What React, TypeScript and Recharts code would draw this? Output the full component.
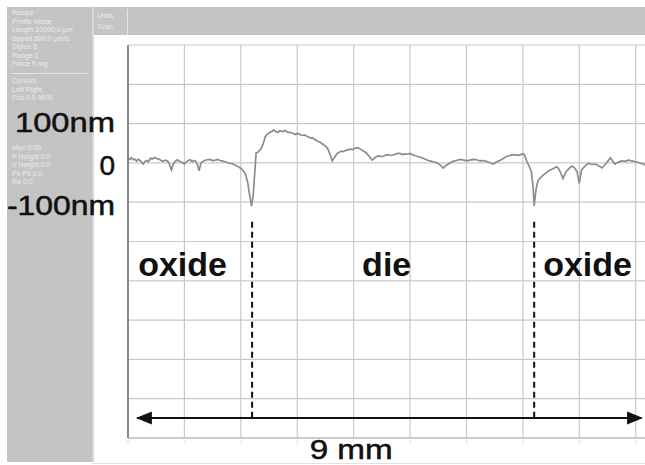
import { LineChart, Line, XAxis, YAxis, CartesianGrid, ReferenceLine, ReferenceDot } from 'recharts'

// surface profile scan: position along the scan (mm) and height (nm)
const positionMm = [
  0.00, 0.03, 0.06, 0.09, 0.12, 0.15, 0.18, 0.21, 0.24, 0.27, 0.30, 0.33, 0.36, 0.40, 0.43, 0.47, 0.51, 0.55, 0.58, 0.62,
  0.66, 0.70, 0.73, 0.77, 0.80, 0.83, 0.86, 0.88, 0.91, 0.95, 0.98, 1.00, 1.03, 1.07, 1.10, 1.14, 1.17, 1.20, 1.23, 1.26,
  1.29, 1.31, 1.36, 1.40, 1.45, 1.50, 1.55, 1.59, 1.63, 1.67, 1.72, 1.76, 1.80, 1.84, 1.88, 1.93, 1.97, 2.01, 2.05, 2.08,
  2.12, 2.16, 2.19, 2.22, 2.24, 2.26, 2.27, 2.30, 2.32, 2.35, 2.38, 2.41, 2.43, 2.46, 2.50, 2.53, 2.55, 2.58, 2.60, 2.63,
  2.66, 2.69, 2.72, 2.75, 2.78, 2.81, 2.84, 2.87, 2.90, 2.94, 2.97, 3.00, 3.03, 3.06, 3.10, 3.13, 3.17, 3.20, 3.24, 3.27,
  3.30, 3.33, 3.36, 3.40, 3.43, 3.46, 3.49, 3.52, 3.54, 3.57, 3.59, 3.62, 3.64, 3.66, 3.69, 3.71, 3.75, 3.79, 3.82, 3.86,
  3.90, 3.94, 3.98, 4.02, 4.06, 4.09, 4.12, 4.15, 4.19, 4.22, 4.25, 4.28, 4.31, 4.33, 4.36, 4.38, 4.42, 4.45, 4.49, 4.53,
  4.57, 4.61, 4.65, 4.70, 4.74, 4.78, 4.82, 4.86, 4.90, 4.95, 5.00, 5.04, 5.08, 5.12, 5.17, 5.23, 5.29, 5.35, 5.41, 5.48,
  5.53, 5.59, 5.64, 5.71, 5.76, 5.82, 5.89, 5.95, 6.01, 6.06, 6.12, 6.18, 6.24, 6.29, 6.35, 6.41, 6.47, 6.53, 6.60, 6.66,
  6.72, 6.78, 6.83, 6.89, 6.95, 6.99, 7.02, 7.05, 7.07, 7.11, 7.15, 7.18, 7.20, 7.23, 7.25, 7.27, 7.31, 7.36, 7.42, 7.48,
  7.54, 7.60, 7.63, 7.66, 7.71, 7.74, 7.77, 7.82, 7.87, 7.91, 7.94, 7.96, 8.00, 8.02, 8.04, 8.10, 8.16, 8.22, 8.28, 8.34,
  8.40, 8.46, 8.52, 8.55, 8.59, 8.63, 8.69, 8.75, 8.81, 8.87, 8.93, 8.99, 9.05, 9.11, 9.17,
]

const heightNm = [
  12, 9, 13, 8, 10, 5, 9, 7, 2, -3, 4, 6, 3, 12, 10, 14, 11, 10, 7, 4,
  7, 5, -2, -18, -4, 3, 6, 8, 4, 2, -1, -3, 2, 6, 8, 3, 6, 4, -4, -20,
  -2, 2, 6, 8, 9, 6, 7, 9, 6, 5, 3, 1, -1, -2, -4, -8, -11, -15, -21, -28,
  -48, -85, -110, -82, -40, 2, 25, 27, 30, 34, 42, 55, 66, 72, 76, 79, 80, 84, 82, 79,
  78, 82, 81, 79, 83, 80, 77, 78, 76, 74, 72, 75, 74, 71, 70, 71, 68, 66, 63, 64,
  60, 58, 55, 53, 50, 47, 44, 40, 36, 26, 18, 5, 10, 14, 20, 24, 28, 30, 29, 32,
  33, 35, 34, 37, 39, 38, 35, 32, 29, 26, 21, 16, 10, 7, 11, 14, 17, 18, 16, 17,
  20, 21, 19, 20, 22, 24, 24, 21, 23, 22, 24, 21, 19, 17, 15, 12, 8, 5, 3, 0,
  -5, -13, -6, 0, 4, 6, 9, 7, 5, 7, 9, 8, 5, 6, 4, 1, -3, 2, 7, 12,
  17, 19, 21, 20, 20, 23, 22, 12, 3, -8, -22, -60, -110, -70, -55, -45, -38, -31, -24, -18,
  -14, -10, -14, -22, -40, -30, -22, -14, -8, -12, -18, -22, -52, -34, -18, -8, -1, -4, -3, -7,
  -13, -4, 7, 13, 5, -3, 2, 5, 4, 7, 5, 3, 1, -2, -5,
]

const xTicks = [0, 1, 2, 3, 4, 5, 6, 7, 8, 9]
const yTicks = [-700, -600, -500, -400, -300, -200, -100, 0, 100, 200, 300]
const labelledNm = [100, 0, -100]
const yTickLabels = ['100nm', '0', '-100nm']
const regionLabels = ['oxide', 'die', 'oxide']
const regionStartMm = [0.18, 4.15, 7.36]
const edgeMm = [2.2, 7.2]
const spanLabel = '9 mm'
const headerLines = ['Units', 'Scan']
const panelLines = [
  'Recipe', 'Profile Mode', 'Length 10000.0 µm', 'Speed 500.0 µm/s', 'Stylus 5', 'Range 1', 'Force 5 mg',
]
const cursorLines = ['Cursors', 'Left   Right', 'Pos  0.0  9000']
const statLines = ['Max  0.00', 'P Height 0.0', 'V Height 0.0', 'Pk-Pk  0.0', 'Ra  0.0']

const data = positionMm.map((mm, i) => ({ mm, nm: heightNm[i] }))

const FONT = "'Liberation Sans', Arial, sans-serif"
const panelText = { color: '#ececec', fontSize: 7, lineHeight: '8.5px', whiteSpace: 'nowrap' as const }

function NmTick({ x, y, payload }: { x?: number; y?: number; payload?: { value: number } }) {
  const i = labelledNm.indexOf(payload?.value as number)
  if (i < 0) return <g />
  const drop = [8, 12, 13]
  const lengths = [100, 0, 108]
  return (
    <text
      x={x}
      y={(y as number) + drop[i]}
      textAnchor="end"
      fontSize={28}
      fontFamily={FONT}
      fill="#111"
      stroke="#111"
      strokeWidth={0.5}
      textLength={lengths[i] || undefined}
      lengthAdjust="spacingAndGlyphs"
    >
      {yTickLabels[i]}
    </text>
  )
}

function MmTick({ x, y, payload }: { x?: number; y?: number; payload?: { value: number } }) {
  // the span label covers the 4 mm tick
  if (payload?.value === 4) return <g />
  return (
    <text x={x} y={(y as number) + 6} textAnchor="middle" fontSize={6} fontFamily={FONT} fill="#e2e2e2">
      {payload?.value}
    </text>
  )
}

function Arrowhead({ cx, cy, dir }: { cx?: number; cy?: number; dir: number }) {
  const x = cx as number
  const y = cy as number
  return <polygon points={`${x},${y} ${x + dir * 16},${y - 6.5} ${x + dir * 16},${y + 6.5}`} fill="#111" />
}

export default function App() {
  return (
    <div style={{ position: 'fixed', left: 0, top: 0, width: 645, height: 465, overflow: 'hidden', background: '#fff', fontFamily: FONT }}>
      <div style={{ position: 'absolute', left: 7, top: 7, width: 85, height: 455, background: '#c4c4c4', borderRight: '2px solid #d8d8d8' }}>
        <div style={{ position: 'absolute', left: 5, top: 2, ...panelText }}>
          {panelLines.map((t, i) => <div key={i}>{t}</div>)}
        </div>
        <div style={{ position: 'absolute', left: 4, top: 66, width: 76, height: 1, background: '#e4e4e4' }} />
        <div style={{ position: 'absolute', left: 5, top: 70, ...panelText }}>
          {cursorLines.map((t, i) => <div key={i}>{t}</div>)}
        </div>
        <div style={{ position: 'absolute', left: 5, top: 137, ...panelText }}>
          {statLines.map((t, i) => <div key={i}>{t}</div>)}
        </div>
      </div>
      <div style={{ position: 'absolute', left: 94, top: 7, width: 551, height: 28, background: '#c4c4c4' }}>
        <div style={{ padding: '3px 0 0 3px', color: '#ececec', fontSize: 7, lineHeight: '11px' }}>
          {headerLines.map((t, i) => <div key={i}>{t}</div>)}
        </div>
        <div style={{ position: 'absolute', left: 33, top: 2, width: 1, height: 26, background: '#e6e6e6' }} />
      </div>
      <div style={{ position: 'absolute', left: 92, top: 463, width: 553, height: 1, background: '#e4e4e4' }} />
      <div style={{ position: 'absolute', left: 0, top: 0 }}>
        <LineChart width={647} height={465} data={data} margin={{ top: 45, right: 0, bottom: 7, left: 0 }}>
          <CartesianGrid stroke="#c9c9c9" strokeWidth={1.2} />
          <XAxis
            dataKey="mm"
            type="number"
            domain={[0, 9.2]}
            ticks={xTicks}
            height={20}
            allowDataOverflow
            stroke="#c4c4c4"
            strokeWidth={1.5}
            tickLine={false}
            tickSize={0}
            tickMargin={0}
            tick={<MmTick />}
          />
          <YAxis
            type="number"
            domain={[-700, 300]}
            ticks={yTicks}
            width={128}
            allowDataOverflow
            stroke="#6e6e6e"
            strokeWidth={1.5}
            tickLine={false}
            tickSize={0}
            tickMargin={13}
            tick={<NmTick />}
          />
          <Line type="linear" dataKey="nm" stroke="#8c8c8c" strokeWidth={1.7} dot={false} isAnimationActive={false} />
          {edgeMm.map((mm) => (
            <ReferenceLine
              key={mm}
              segment={[{ x: mm, y: -150 }, { x: mm, y: -649 }]}
              stroke="#111"
              strokeWidth={2}
              strokeDasharray="6 4"
            />
          ))}
          <ReferenceLine segment={[{ x: 0.16, y: -649 }, { x: 9.1, y: -649 }]} stroke="#111" strokeWidth={2} />
          <ReferenceDot x={0.14} y={-649} r={0} shape={(p: { cx?: number; cy?: number }) => <Arrowhead {...p} dir={1} />} />
          <ReferenceDot x={9.13} y={-649} r={0} shape={(p: { cx?: number; cy?: number }) => <Arrowhead {...p} dir={-1} />} />
          {regionLabels.map((t, i) => (
            <ReferenceDot
              key={i}
              x={regionStartMm[i]}
              y={-288}
              r={0}
              shape={(p: { cx?: number; cy?: number }) => (
                <text x={p.cx} y={p.cy} fontSize={34} fontWeight="bold" fontFamily={FONT} fill="#111">{t}</text>
              )}
            />
          ))}
          <ReferenceDot
            x={3.22}
            y={-649}
            r={0}
            shape={(p: { cx?: number; cy?: number }) => (
              <text
                x={p.cx}
                y={(p.cy as number) + 41}
                fontSize={28}
                fontFamily={FONT}
                fill="#111"
                stroke="#111"
                strokeWidth={0.5}
                textLength={83}
                lengthAdjust="spacingAndGlyphs"
              >
                {spanLabel}
              </text>
            )}
          />
        </LineChart>
      </div>
    </div>
  )
}
